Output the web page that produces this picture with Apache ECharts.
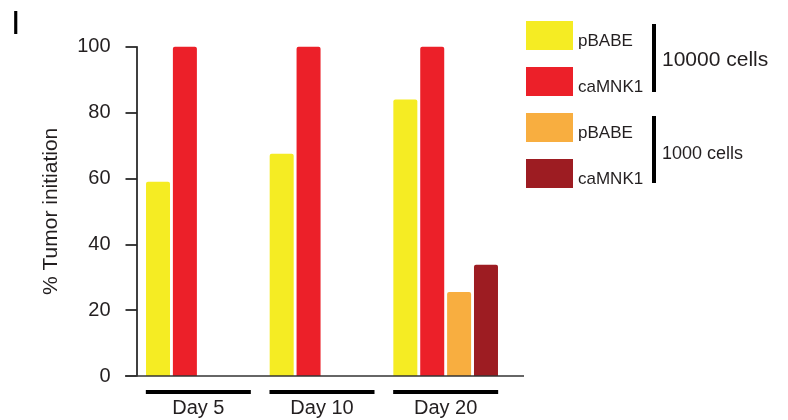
<!DOCTYPE html>
<html>
<head>
<meta charset="utf-8">
<script src="https://cdn.jsdelivr.net/npm/echarts@6/dist/echarts.min.js"></script>
<style>
    html, body { margin: 0; padding: 0; background: #fff; }
    #chart { width: 788px; height: 420px; }
</style>
</head>
<body>
<div id="chart"></div>
<script>
// categories + values
const categories = ['Day 5', 'Day 10', 'Day 20'];
const pBABE10k = [59, 67.5, 84];
const caMNK1_10k = [100, 100, 100];
const pBABE1k = [null, null, 25.5];
const caMNK1_1k = [null, null, 33.8];
const yTicks = [0, 20, 40, 60, 80, 100];

const FONT = 'Liberation Sans';
const TEXT_COLOR = '#231f20';

const chart = echarts.init(document.getElementById('chart'));

function barSeries(name, data, color) {
    return {
        name: name,
        type: 'bar',
        data: data,
        barWidth: 24,
        barGap: '12%',
        itemStyle: {
            color: color,
            borderRadius: [2, 2, 0, 0]
        },
        animation: false
    };
}

const option = {
    animation: false,
    grid: {
        left: 136.5,
        right: 280.5,
        top: 46.7,
        bottom: 44
    },
    legend: {
        orient: 'vertical',
        left: 526,
        top: 21,
        padding: 0,
        itemWidth: 47,
        itemHeight: 29,
        itemGap: 17,
        icon: 'rect',
        selectedMode: false,
        formatter: name => '{t|' + name.split(' ')[0] + '}',
        textStyle: {
            fontFamily: FONT,
            fontSize: 17,
            color: TEXT_COLOR,
            rich: {
                t: {
                    fontFamily: FONT,
                    fontSize: 17,
                    color: TEXT_COLOR,
                    padding: [12, 0, 0, 0]
                }
            }
        },
        data: ['pBABE (10000)', 'caMNK1 (10000)', 'pBABE (1000)', 'caMNK1 (1000)']
    },
    xAxis: {
        type: 'category',
        data: categories,
        axisLine: { show: false },
        axisTick: { show: false },
        axisLabel: {
            margin: 22,
            fontFamily: FONT,
            fontSize: 20,
            color: TEXT_COLOR
        }
    },
    yAxis: {
        type: 'value',
        min: yTicks[0],
        max: yTicks[yTicks.length - 1],
        interval: 20,
        name: '% Tumor initiation',
        nameLocation: 'middle',
        nameGap: 75,
        nameTextStyle: {
            fontFamily: FONT,
            fontSize: 21,
            color: TEXT_COLOR
        },
        axisLine: {
            show: true,
            lineStyle: { color: '#000', width: 1.5 }
        },
        axisTick: {
            show: true,
            length: 11,
            lineStyle: { color: '#000', width: 1.5 }
        },
        axisLabel: {
            margin: 26,
            fontFamily: FONT,
            fontSize: 20,
            color: TEXT_COLOR
        },
        splitLine: { show: false }
    },
    series: [
        barSeries('pBABE (10000)', pBABE10k, '#f5ec23'),
        barSeries('caMNK1 (10000)', caMNK1_10k, '#ec2029'),
        barSeries('pBABE (1000)', pBABE1k, '#f8ae40'),
        barSeries('caMNK1 (1000)', caMNK1_1k, '#9d1c22'),
        {
            // black underline under each day group
            type: 'custom',
            data: categories.map((c, i) => [i, 0]),
            renderItem(params, api) {
                const p = api.coord([api.value(0), 0]);
                return {
                    type: 'rect',
                    shape: { x: p[0] - 52.5, y: p[1] + 14, width: 105, height: 4 },
                    style: { fill: '#000' }
                };
            },
            silent: true,
            animation: false
        }
    ],
    graphic: [
        // panel letter
        {
            type: 'text', left: 11, top: 8,
            style: { text: 'I', font: '34px ' + FONT, fill: '#000' }
        },
        // long baseline
        {
            type: 'line',
            shape: { x1: 125, y1: 376, x2: 524, y2: 376 },
            style: { stroke: '#333', lineWidth: 1.5 },
            z: 10
        },
        // brackets + group labels
        {
            type: 'rect',
            shape: { x: 652, y: 24, width: 4, height: 68 },
            style: { fill: '#000' }
        },
        {
            type: 'text', left: 662, top: 50,
            style: { text: '10000 cells', font: '21px ' + FONT, fill: TEXT_COLOR }
        },
        {
            type: 'rect',
            shape: { x: 652, y: 116, width: 4, height: 67 },
            style: { fill: '#000' }
        },
        {
            type: 'text', left: 662, top: 145,
            style: { text: '1000 cells', font: '18px ' + FONT, fill: TEXT_COLOR }
        }
    ]
};

chart.setOption(option);
</script>
</body>
</html>
